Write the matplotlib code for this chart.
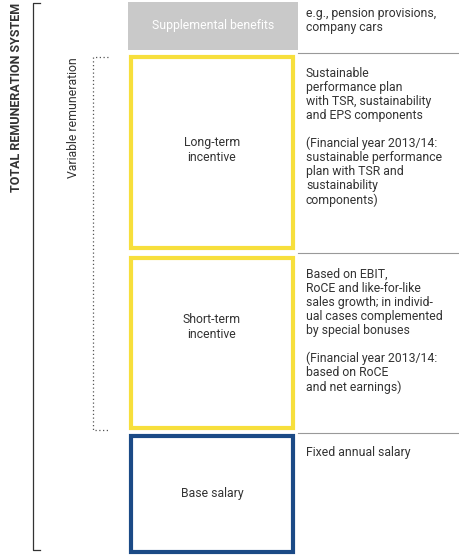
import matplotlib
matplotlib.use("Agg")
import matplotlib.pyplot as plt
from matplotlib.patches import Rectangle

plt.rcParams['font.family'] = ['Roboto', 'DejaVu Sans']

# components, top to bottom
labels = ["Supplemental benefits", "Long-term\nincentive", "Short-term\nincentive", "Base salary"]
descriptions = [
    "e.g., pension provisions,\ncompany cars",
    "Sustainable\nperformance plan\nwith TSR, sustainability\nand EPS components\n\n(Financial year 2013/14:\nsustainable performance\nplan with TSR and\nsustainability\ncomponents)",
    "Based on EBIT,\nRoCE and like-for-like\nsales growth; in individ-\nual cases complemented\nby special bonuses\n\n(Financial year 2013/14:\nbased on RoCE\nand net earnings)",
    "Fixed annual salary",
]
outer_label = "TOTAL REMUNERATION SYSTEM"
variable_label = "Variable remuneration"

# box geometry in pixels (top, bottom) and styling
box_tops = [2, 57, 258, 436]
box_bottoms = [50, 248, 428, 552]
label_y = [26, 150, 327, 494]
edge_colors = [None, "#f7df3c", "#f7df3c", "#1b4a86"]
separators = [53, 253, 433]

fig = plt.figure(figsize=(4.6, 5.55), dpi=100)
ax = fig.add_axes([0, 0, 1, 1])
ax.set_xlim(0, 460)
ax.set_ylim(555, 0)
ax.axis("off")

text_col = "#333333"
fs = 8.8
for i, (lab, desc) in enumerate(zip(labels, descriptions)):
    t, b = box_tops[i], box_bottoms[i]
    if edge_colors[i] is None:
        ax.add_patch(Rectangle((128, t), 170, b - t, facecolor="#c9c9c9", edgecolor="none"))
        ax.text(213, label_y[i], lab, color="white", ha="center", va="center", fontsize=fs)
    else:
        ax.add_patch(Rectangle((131, t), 162, b - t, facecolor="white",
                               edgecolor=edge_colors[i], linewidth=3))
        ax.text(212, label_y[i], lab, color=text_col, ha="center", va="center", fontsize=fs)
    dy = 5 if i == 0 else 10
    ax.text(306, t + dy, desc, color=text_col, ha="left", va="top", fontsize=fs, linespacing=1.1)

for y in separators:
    ax.plot([298, 460], [y, y], color="#999999", lw=0.8)

# outer bracket
ax.plot([40, 33, 33, 40], [3, 3, 550, 550], color="#333333", lw=0.9)
ax.text(17, 3, outer_label, rotation=90, ha="center", va="top", fontsize=9,
        fontweight="bold", color=text_col)

# variable remuneration bracket (dotted)
ax.plot([108, 93, 93, 108], [57, 57, 430, 430], color="#555555", lw=0.9, ls=(0, (1, 2)))
ax.text(74, 57, variable_label, rotation=90, ha="center", va="top", fontsize=fs, color=text_col)

fig.savefig("out.png", dpi=100)
